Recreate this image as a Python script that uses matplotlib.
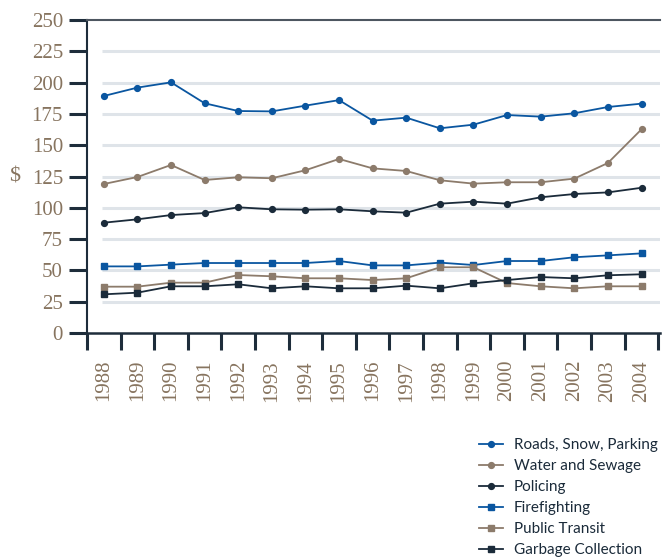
import matplotlib
matplotlib.use("Agg")
import matplotlib.pyplot as plt
from matplotlib.ticker import FixedLocator

years = [str(y) for y in range(1988, 2005)]
roads = [189.3, 196.0, 200.2, 183.5, 177.3, 177.0, 181.6, 186.0, 169.6, 172.0, 163.5, 166.4, 174.1, 172.8, 175.5, 180.5, 183.2]
water = [119.0, 124.6, 134.2, 122.2, 124.4, 123.6, 130.0, 139.0, 131.5, 129.4, 122.0, 119.3, 120.4, 120.4, 123.3, 135.8, 162.7]
policing = [88.1, 90.8, 94.2, 95.8, 100.4, 98.8, 98.5, 98.8, 97.2, 96.1, 103.3, 104.9, 103.3, 108.4, 111.0, 112.3, 116.0]
fire = [53.2, 53.2, 54.6, 55.9, 55.9, 55.9, 55.9, 57.5, 54.0, 54.0, 56.2, 54.3, 57.5, 57.5, 60.5, 62.0, 63.6]
transit = [37.0, 37.0, 40.2, 40.2, 46.3, 45.3, 43.7, 43.7, 42.3, 43.7, 52.5, 52.5, 39.9, 37.3, 35.7, 37.3, 37.3]
garbage = [30.9, 32.2, 37.3, 37.3, 38.9, 35.7, 37.3, 35.7, 35.7, 37.8, 35.7, 39.7, 42.3, 44.7, 43.7, 46.1, 46.9]
yticks = [0, 25, 50, 75, 100, 125, 150, 175, 200, 225, 250]

BLUE = "#0a56a0"
BROWN = "#8c7b6b"
NAVY = "#1b2b3a"
LABEL = "#87745f"
SPINE = "#1e2d3b"

fig = plt.figure(figsize=(6.62, 5.59), dpi=100)
ax = fig.add_axes([87/662, 1-333/559, (660-87)/662, (333-20)/559])
x = list(range(len(years)))

series = [
    ("Roads, Snow, Parking", roads, BLUE, "o"),
    ("Water and Sewage", water, BROWN, "o"),
    ("Policing", policing, NAVY, "o"),
    ("Firefighting", fire, BLUE, "s"),
    ("Public Transit", transit, BROWN, "s"),
    ("Garbage Collection", garbage, NAVY, "s"),
]

for yv in yticks[1:-1]:
    ax.hlines(yv, -0.05, 16.6, color="#dfe4e9", lw=2.2, zorder=1)

handles = []
for name, vals, col, mk in series:
    ms = 4.2 if mk == "o" else 4.5
    h, = ax.plot(x, vals, color=col, marker=mk, ms=ms, lw=1.3, label=name, zorder=3)
    handles.append(h)

ax.set_xlim(-0.5, 16.55)
ax.set_ylim(0, 250)
ax.set_yticks(yticks)
ax.set_yticklabels([str(v) for v in yticks], family="Liberation Serif", fontsize=15, color=LABEL)
ax.tick_params(axis="y", length=13, width=2.2, color=SPINE, pad=4.3)

ax.xaxis.set_major_locator(FixedLocator([i - 0.5 for i in range(len(years) + 1)]))
ax.set_xticklabels([])
ax.tick_params(axis="x", length=12.5, width=2.2, color=SPINE)
for i, yr in enumerate(years):
    ax.text(i, -21.5, yr, rotation=90, ha="center", va="top", family="Liberation Serif",
            fontsize=15, color=LABEL, transform=ax.transData, clip_on=False)

ax.spines["right"].set_visible(False)
ax.spines["left"].set_color(SPINE)
ax.spines["left"].set_linewidth(1.5)
ax.spines["bottom"].set_color(SPINE)
ax.spines["bottom"].set_linewidth(1.8)
ax.spines["top"].set_color("#4d5660")
ax.spines["top"].set_linewidth(1.5)

fig.text(15/662, 1-177/559, "$", family="Liberation Serif", fontsize=16, color=LABEL,
         ha="center", va="center")

leg = fig.legend(handles=handles, loc="lower right", bbox_to_anchor=(1.014, -0.021),
                 frameon=False, prop={"family": "Lato", "size": 11}, handlelength=1.6,
                 labelspacing=0.46, handletextpad=0.7, labelcolor="#1b2b3a")

fig.savefig("out.png", dpi=100)
